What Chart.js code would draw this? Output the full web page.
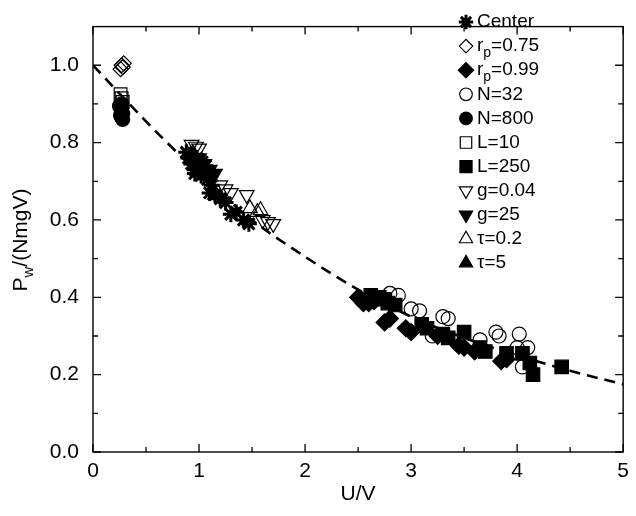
<!DOCTYPE html>
<html><head><meta charset="utf-8">
<script src="https://cdn.jsdelivr.net/npm/chart.js@4.4.1/dist/chart.umd.min.js"></script>
<style>html,body{margin:0;padding:0;background:#fff}#wrap{width:636px;height:516px;position:relative}</style>
</head><body><div id="wrap"><canvas id="c"></canvas></div>
<script>
// ---- tick definitions ----
const xTicks = [0, 1, 2, 3, 4, 5];
const xTickLabels = ['0', '1', '2', '3', '4', '5'];
const yTicks = [0, 0.2, 0.4, 0.6, 0.8, 1.0];
const yTickLabels = ['0.0', '0.2', '0.4', '0.6', '0.8', '1.0'];
const xMinorTicks = [0.5, 1.5, 2.5, 3.5, 4.5];
const yMinorTicks = [0.1, 0.3, 0.5, 0.7, 0.9];

// ---- series (U/V, Pw/(NmgV)) ----
const centerPts = [[0.88,0.775],[0.9,0.76],[0.92,0.765],[0.93,0.745],[0.95,0.745],[0.96,0.73],[0.98,0.76],[0.99,0.74],[1.0,0.73],[1.02,0.715],[1.03,0.75],[1.05,0.72],[1.06,0.74],[0.96,0.72],[1.08,0.705],[1.12,0.69],[1.1,0.67],[1.15,0.665],[1.2,0.655],[1.25,0.645],[1.3,0.615],[1.35,0.62],[1.42,0.6],[1.47,0.59]];
const rp075Pts = [[0.26,0.99],[0.27,1.0],[0.28,0.995],[0.29,1.005]];
const rp099Pts = [[2.5,0.40],[2.53,0.395],[2.55,0.385],[2.6,0.385],[2.65,0.39],[2.75,0.335],[2.8,0.345],[2.95,0.32],[3.0,0.31],[3.25,0.30],[3.45,0.275],[3.5,0.27],[3.6,0.26],[3.85,0.235],[3.9,0.24]];
const n32Pts = [[2.8,0.41],[2.88,0.405],[3.0,0.37],[3.08,0.365],[3.2,0.30],[3.3,0.35],[3.35,0.345],[3.65,0.29],[3.8,0.31],[3.83,0.30],[4.0,0.27],[4.1,0.27],[4.05,0.22],[4.02,0.305]];
const n800Pts = [[0.25,0.895],[0.26,0.89],[0.27,0.885],[0.28,0.875],[0.26,0.87],[0.27,0.865],[0.28,0.86],[0.27,0.9]];
const l10Pts = [[0.26,0.925],[0.27,0.915],[0.28,0.905]];
const l250Pts = [[2.62,0.405],[2.7,0.40],[2.75,0.395],[2.78,0.385],[2.85,0.38],[3.1,0.33],[3.15,0.32],[3.3,0.305],[3.35,0.295],[3.5,0.31],[3.65,0.27],[3.7,0.26],[3.9,0.255],[4.05,0.255],[4.12,0.23],[4.15,0.20],[4.42,0.22]];
const g004Pts = [[0.93,0.795],[0.97,0.79],[1.0,0.785],[1.2,0.69],[1.25,0.68],[1.3,0.67],[1.45,0.665],[1.6,0.60],[1.65,0.595],[1.7,0.59]];
const g25Pts = [[1.0,0.76],[1.03,0.74],[1.05,0.745],[1.08,0.725],[1.1,0.73],[1.12,0.715],[1.15,0.72]];
const tau02Pts = [[1.15,0.665],[1.48,0.63],[1.55,0.62],[1.58,0.625]];
const tau5Pts = [[0.95,0.77],[1.0,0.75],[1.02,0.735]];
// dashed fit curve
const curveX = [0, 0.5, 1, 1.5, 2, 2.5, 3, 3.5, 4, 4.5, 5];
const curveY = [1.0, 0.855, 0.72, 0.60, 0.505, 0.42, 0.35, 0.295, 0.25, 0.21, 0.175];

const seriesNames = ['Center','r_p=0.75','r_p=0.99','N=32','N=800','L=10','L=250','g=0.04','g=25','\u03c4=0.2','\u03c4=5'];
const seriesPts = [centerPts,rp075Pts,rp099Pts,n32Pts,n800Pts,l10Pts,l250Pts,g004Pts,g25Pts,tau02Pts,tau5Pts];
const seriesStyle = [
  {ps:'star', rot:0, fill:false, r:8},
  {ps:'rectRot', rot:0, fill:false, r:7.5},
  {ps:'rectRot', rot:0, fill:true, r:8.5},
  {ps:'circle', rot:0, fill:false, r:7},
  {ps:'circle', rot:0, fill:true, r:7},
  {ps:'rect', rot:0, fill:false, r:9},
  {ps:'rect', rot:0, fill:true, r:9.5},
  {ps:'triangle', rot:180, fill:false, r:8.5},
  {ps:'triangle', rot:180, fill:true, r:8.5},
  {ps:'triangle', rot:0, fill:false, r:8.5},
  {ps:'triangle', rot:0, fill:true, r:8.5}
];

const FONT = '"Liberation Sans", Arial, Helvetica, sans-serif';

const datasets = seriesNames.map((name, i) => {
  const s = seriesStyle[i];
  return {
    type: 'scatter',
    label: name,
    data: seriesPts[i].map(p => ({x: p[0], y: p[1]})),
    pointStyle: s.ps,
    pointRotation: s.rot,
    pointRadius: s.r,
    pointHoverRadius: s.r,
    pointBorderWidth: s.ps === 'star' ? 3 : 1.2,
    pointBorderColor: '#000',
    pointBackgroundColor: s.fill ? '#000' : 'rgba(0,0,0,0)',
    showLine: false,
    order: 20 - i
  };
});
datasets.push({
  type: 'line',
  label: 'fit',
  data: curveX.map((x, i) => ({x: x, y: curveY[i]})),
  borderColor: '#000',
  borderWidth: 2.6,
  borderDash: [11, 7],
  pointRadius: 0,
  cubicInterpolationMode: 'monotone',
  fill: false,
  order: 30
});

function drawSubText(ctx, text, x, y, size) {
  const parts = [];
  let i = 0;
  while (i < text.length) {
    if (text[i] === '_' && i + 1 < text.length) { parts.push({t: text[i+1], sub: true}); i += 2; }
    else {
      let j = i; while (j < text.length && text[j] !== '_') j++;
      parts.push({t: text.slice(i, j), sub: false}); i = j;
    }
  }
  let cx = x;
  parts.forEach(p => {
    if (p.sub) {
      ctx.font = Math.round(size * 0.72) + 'px ' + FONT;
      ctx.fillText(p.t, cx, y + size * 0.38);
    } else {
      ctx.font = size + 'px ' + FONT;
      ctx.fillText(p.t, cx, y);
    }
    cx += ctx.measureText(p.t).width;
  });
  return cx - x;
}
function measureSubText(ctx, text, size) {
  let w = 0, i = 0;
  while (i < text.length) {
    if (text[i] === '_' && i + 1 < text.length) { ctx.font = Math.round(size*0.72)+'px '+FONT; w += ctx.measureText(text[i+1]).width; i += 2; }
    else { let j = i; while (j < text.length && text[j] !== '_') j++; ctx.font = size+'px '+FONT; w += ctx.measureText(text.slice(i,j)).width; i = j; }
  }
  return w;
}

const decorPlugin = {
  id: 'decor',
  afterDraw(chart) {
    const ctx = chart.ctx;
    const a = chart.chartArea;
    const xs = chart.scales.x, ys = chart.scales.y;
    ctx.save();
    ctx.strokeStyle = '#000';
    ctx.lineWidth = 1.4;
    ctx.strokeRect(a.left, a.top, a.right - a.left, a.bottom - a.top);
    ctx.lineWidth = 1.3;
    ctx.beginPath();
    const major = 8, minor = 5;
    xTicks.forEach(v => { const px = xs.getPixelForValue(v);
      ctx.moveTo(px, a.bottom); ctx.lineTo(px, a.bottom - major);
      ctx.moveTo(px, a.top); ctx.lineTo(px, a.top + major); });
    xMinorTicks.forEach(v => { const px = xs.getPixelForValue(v);
      ctx.moveTo(px, a.bottom); ctx.lineTo(px, a.bottom - minor);
      ctx.moveTo(px, a.top); ctx.lineTo(px, a.top + minor); });
    yTicks.forEach(v => { const py = ys.getPixelForValue(v);
      ctx.moveTo(a.left, py); ctx.lineTo(a.left + major, py);
      ctx.moveTo(a.right, py); ctx.lineTo(a.right - major, py); });
    yMinorTicks.forEach(v => { const py = ys.getPixelForValue(v);
      ctx.moveTo(a.left, py); ctx.lineTo(a.left + minor, py);
      ctx.moveTo(a.right, py); ctx.lineTo(a.right - minor, py); });
    ctx.stroke();

    // legend
    ctx.fillStyle = '#000';
    ctx.textBaseline = 'middle';
    ctx.textAlign = 'left';
    const lx = 466, ly0 = 22, step = 24.1, tx = 477, fs = 19;
    seriesNames.forEach((name, i) => {
      const s = seriesStyle[i];
      const y = ly0 + i * step;
      ctx.save();
      ctx.strokeStyle = '#000';
      ctx.fillStyle = s.fill ? '#000' : 'rgba(0,0,0,0)';
      ctx.lineWidth = s.ps === 'star' ? 3 : 1.2;
      Chart.helpers.drawPoint(ctx, {pointStyle: s.ps, rotation: s.rot, radius: s.r * 0.9, borderWidth: ctx.lineWidth}, lx, y);
      ctx.restore();
      ctx.fillStyle = '#000';
      drawSubText(ctx, name, tx, y, fs);
    });

    // axis titles
    ctx.textAlign = 'left';
    ctx.textBaseline = 'middle';
    const tfs = 21;
    const xt = 'U/V';
    ctx.font = tfs + 'px ' + FONT;
    const xw = ctx.measureText(xt).width;
    ctx.fillText(xt, (a.left + a.right) / 2 - xw / 2, 494);
    ctx.save();
    ctx.translate(21, 240);
    ctx.rotate(-Math.PI / 2);
    const yt = 'P_w/(NmgV)';
    const yw = measureSubText(ctx, yt, tfs);
    drawSubText(ctx, yt, -yw / 2, 0, tfs);
    ctx.restore();
    ctx.restore();
  }
};

new Chart(document.getElementById('c'), {
  data: { datasets: datasets },
  options: {
    responsive: true,
    maintainAspectRatio: false,
    animation: false,
    devicePixelRatio: 1,
    layout: { padding: { left: 0, right: 10, top: 3, bottom: 0 } },
    plugins: { legend: { display: false }, tooltip: { enabled: false } },
    scales: {
      x: {
        type: 'linear', min: 0, max: 5,
        afterBuildTicks: s => { s.ticks = xTicks.map(v => ({value: v})); },
        afterFit: s => { s.height = 64; },
        grid: { display: false, drawTicks: false },
        border: { display: false },
        ticks: { color: '#000', font: { size: 21, family: FONT }, padding: 7, maxRotation: 0,
          callback: (v) => { const k = xTicks.indexOf(v); return k >= 0 ? xTickLabels[k] : ''; } }
      },
      y: {
        type: 'linear', min: 0, max: 1.1,
        afterBuildTicks: s => { s.ticks = yTicks.map(v => ({value: v})); },
        afterFit: s => { s.width = 93; },
        grid: { display: false, drawTicks: false },
        border: { display: false },
        ticks: { color: '#000', font: { size: 21, family: FONT }, padding: 14,
          callback: (v) => { const k = yTicks.findIndex(t => Math.abs(t - v) < 1e-9); return k >= 0 ? yTickLabels[k] : ''; } }
      }
    }
  },
  plugins: [decorPlugin]
});
</script>
</body></html>
